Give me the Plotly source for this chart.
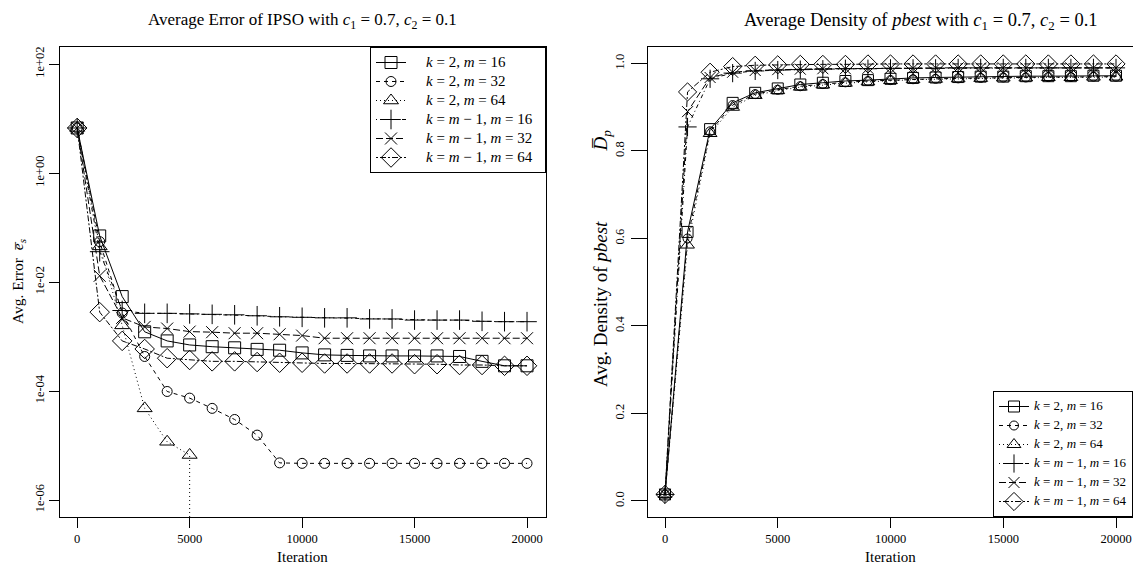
import plotly.graph_objects as go

# Iterations at which the swarm was sampled
iterations = [0, 1000, 2000, 3000, 4000, 5000, 6000, 7000, 8000, 9000, 10000,
              11000, 12000, 13000, 14000, 15000, 16000, 17000, 18000, 19000, 20000]
x_ticks = [0, 5000, 10000, 15000, 20000]
x_tick_text = ["0", "5000", "10000", "15000", "20000"]

# Average error of IPSO (c1 = 0.7, c2 = 0.1)
err_k2_m16 = [6.7, 0.070, 0.0054, 1.22e-3, 8.3e-4, 7.0e-4, 6.5e-4, 6.2e-4, 5.8e-4, 5.6e-4, 5.0e-4,
              4.6e-4, 4.5e-4, 4.4e-4, 4.4e-4, 4.4e-4, 4.4e-4, 4.3e-4, 3.5e-4, 2.9e-4, 2.9e-4]
err_k2_m32 = [6.7, 0.055, 2.7e-3, 4.3e-4, 9.8e-5, 7.4e-5, 4.8e-5, 3.0e-5, 1.55e-5, 4.8e-6, 4.7e-6,
              4.7e-6, 4.7e-6, 4.7e-6, 4.7e-6, 4.7e-6, 4.7e-6, 4.7e-6, 4.7e-6, 4.7e-6, 4.7e-6]
err_k2_m64 = [6.7, 0.045, 1.6e-3, 4.8e-5, 1.17e-5, 6.7e-6, 0.0, 0.0, 0.0, 0.0, 0.0,
              0.0, 0.0, 0.0, 0.0, 0.0, 0.0, 0.0, 0.0, 0.0, 0.0]
err_km1_m16 = [6.7, 0.036, 3.0e-3, 2.66e-3, 2.66e-3, 2.6e-3, 2.55e-3, 2.5e-3, 2.4e-3, 2.3e-3, 2.25e-3,
               2.2e-3, 2.2e-3, 2.1e-3, 2.1e-3, 2.0e-3, 2.0e-3, 2.0e-3, 1.9e-3, 1.87e-3, 1.87e-3]
err_km1_m32 = [6.7, 0.013, 2.2e-3, 1.5e-3, 1.4e-3, 1.23e-3, 1.2e-3, 1.15e-3, 1.15e-3, 1.1e-3, 1.04e-3,
               9.3e-4, 9.3e-4, 9.3e-4, 9.3e-4, 9.3e-4, 9.3e-4, 9.3e-4, 9.3e-4, 9.3e-4, 9.3e-4]
err_km1_m64 = [6.7, 2.8e-3, 8.3e-4, 5.9e-4, 4.0e-4, 3.7e-4, 3.5e-4, 3.5e-4, 3.4e-4, 3.3e-4, 3.3e-4,
               3.2e-4, 3.2e-4, 3.2e-4, 3.2e-4, 3.1e-4, 3.1e-4, 3.0e-4, 3.0e-4, 2.9e-4, 2.9e-4]

# Average density of pbest
den_k2_m16 = [0.015, 0.615, 0.850, 0.910, 0.933, 0.943, 0.952, 0.956, 0.960, 0.962, 0.965,
              0.967, 0.968, 0.969, 0.970, 0.970, 0.971, 0.971, 0.971, 0.972, 0.972]
den_k2_m32 = [0.015, 0.600, 0.845, 0.905, 0.930, 0.940, 0.948, 0.953, 0.957, 0.960, 0.962,
              0.964, 0.965, 0.966, 0.967, 0.968, 0.968, 0.969, 0.969, 0.970, 0.970]
den_k2_m64 = [0.015, 0.585, 0.840, 0.900, 0.927, 0.938, 0.946, 0.951, 0.955, 0.958, 0.961,
              0.963, 0.964, 0.965, 0.966, 0.967, 0.967, 0.968, 0.968, 0.969, 0.969]
den_km1_m16 = [0.015, 0.855, 0.965, 0.978, 0.983, 0.985, 0.986, 0.987, 0.988, 0.988, 0.989,
               0.989, 0.989, 0.990, 0.990, 0.990, 0.990, 0.990, 0.990, 0.990, 0.990]
den_km1_m32 = [0.015, 0.890, 0.968, 0.980, 0.984, 0.986, 0.987, 0.988, 0.988, 0.989, 0.989,
               0.989, 0.990, 0.990, 0.990, 0.990, 0.990, 0.990, 0.990, 0.990, 0.990]
den_km1_m64 = [0.015, 0.935, 0.980, 0.993, 0.996, 0.997, 0.998, 0.998, 0.998, 0.999, 0.999,
               0.999, 0.999, 0.999, 0.999, 0.999, 0.999, 0.999, 0.999, 0.999, 0.999]

series_names = [
    "<i>k</i> = 2, <i>m</i> = 16",
    "<i>k</i> = 2, <i>m</i> = 32",
    "<i>k</i> = 2, <i>m</i> = 64",
    "<i>k</i> = <i>m</i> \u2212 1, <i>m</i> = 16",
    "<i>k</i> = <i>m</i> \u2212 1, <i>m</i> = 32",
    "<i>k</i> = <i>m</i> \u2212 1, <i>m</i> = 64",
]
error_series = [err_k2_m16, err_k2_m32, err_k2_m64, err_km1_m16, err_km1_m32, err_km1_m64]
density_series = [den_k2_m16, den_k2_m32, den_k2_m64, den_km1_m16, den_km1_m32, den_km1_m64]

# line types 1..6 and plotting symbols 0..5 of base graphics
dashes = ["solid", "4px,4px", "1px,3px", "1px,3px,4px,3px", "7px,3px", "2px,2px,6px,2px"]
symbols = ["square-open", "circle-open", "triangle-up-open", "cross-thin-open", "x-thin-open", "diamond-open"]
sizes = [12, 10, 13, 14, 12, 15]

SERIF = "Liberation Serif, Times New Roman, serif"
W, H = 1133, 565
NB = "\u00a0"
EN = "\u2002"

def px_x(p):
    return p / W

def px_y(p):
    return (H - p) / H

def sized(text, size, lead="", trail=""):
    # legend rows stay compact while the label itself is drawn larger
    return '<span style="font-size:%dpx">%s%s%s</span>' % (size, lead, text, trail)

fig = go.Figure()

for i in range(6):
    fig.add_trace(go.Scatter(
        x=iterations, y=error_series[i], name=sized(series_names[i], 15, EN * 2, EN),
        mode="lines+markers",
        line=dict(color="black", width=1, dash=dashes[i]),
        marker=dict(symbol=symbols[i], size=sizes[i], color="black", line=dict(width=1, color="black")),
        xaxis="x", yaxis="y", legend="legend",
    ))
for i in range(6):
    fig.add_trace(go.Scatter(
        x=iterations, y=density_series[i], name=sized(series_names[i], 13), mode="lines+markers",
        line=dict(color="black", width=1, dash=dashes[i]),
        marker=dict(symbol=symbols[i], size=sizes[i] - 1, color="black", line=dict(width=1, color="black")),
        xaxis="x2", yaxis="y2", legend="legend2",
    ))

axis_common = dict(
    showline=True, mirror=True, linecolor="black", linewidth=1,
    ticks="outside", tickcolor="black", tickwidth=1,
    showgrid=False, zeroline=False,
    tickfont=dict(family=SERIF, size=12.5, color="black"),
)

ybot, ytop = 517, 47
fig.update_layout(
    width=W, height=H,
    margin=dict(l=0, r=0, t=0, b=0),
    paper_bgcolor="white", plot_bgcolor="white",
    showlegend=True,
    xaxis=dict(domain=[px_x(59.5), px_x(546)], range=[-787, 20844], ticklen=10,
               tickvals=x_ticks, ticktext=x_tick_text, **axis_common),
    yaxis=dict(domain=[px_y(ybot), px_y(ytop)], type="log", range=[-6.312, 2.312], ticklen=10,
               tickvals=[1e-6, 1e-4, 1e-2, 1, 100],
               ticktext=["1e-06", "1e-04", "1e-02", "1e+00", "1e+02"],
               tickangle=-90, anchor="x", **axis_common),
    xaxis2=dict(domain=[px_x(648), 1.0], range=[-754, 20754], ticklen=10,
                tickvals=x_ticks, ticktext=x_tick_text, anchor="y2", **axis_common),
    yaxis2=dict(domain=[px_y(ybot), px_y(ytop)], range=[-0.0366, 1.0377], ticklen=16,
                ticklabelstandoff=2,
                tickvals=[0, 0.2, 0.4, 0.6, 0.8, 1.0],
                ticktext=["0.0", "0.2", "0.4", "0.6", "0.8", "1.0"],
                tickangle=-90, anchor="x2", **axis_common),
    legend=dict(x=px_x(546), y=px_y(ytop), xanchor="right", yanchor="top",
                bgcolor="white", bordercolor="black", borderwidth=1,
                font=dict(family=SERIF, size=12, color="black"), tracegroupgap=0),
    legend2=dict(x=1.0, y=px_y(ybot), xanchor="right", yanchor="bottom",
                 bgcolor="white", bordercolor="black", borderwidth=1,
                 font=dict(family=SERIF, size=10, color="black"), tracegroupgap=0),
)

label_font = dict(family=SERIF, size=15, color="black")
annotations = [
    dict(text="Average Error of IPSO with <i>c</i><sub>1</sub> = 0.7, <i>c</i><sub>2</sub> = 0.1",
         x=px_x(302), y=px_y(21), font=dict(family=SERIF, size=17, color="black")),
    dict(text="Average Density of <i>pbest</i> with <i>c</i><sub>1</sub> = 0.7, <i>c</i><sub>2</sub> = 0.1",
         x=px_x(921), y=px_y(21), font=dict(family=SERIF, size=18.5, color="black")),
    dict(text="Iteration", x=px_x(302), y=px_y(557), font=label_font),
    dict(text="Iteration", x=px_x(890), y=px_y(557), font=label_font),
    dict(text="Avg. Error" + NB * 2 + "<i>e\u0305<sub>s</sub></i>", x=px_x(18), y=px_y(282),
         textangle=-90, font=dict(family=SERIF, size=15.5, color="black")),
    dict(text="Avg. Density of" + NB + "<i>pbest</i>" + NB * 15 + "<i>D\u0305<sub>p</sub></i>",
         x=px_x(602), y=px_y(259), textangle=-90, font=dict(family=SERIF, size=19, color="black")),
]
for a in annotations:
    a.update(xref="paper", yref="paper", showarrow=False, xanchor="center", yanchor="middle")
fig.update_layout(annotations=annotations)

fig.write_html("out.html")
